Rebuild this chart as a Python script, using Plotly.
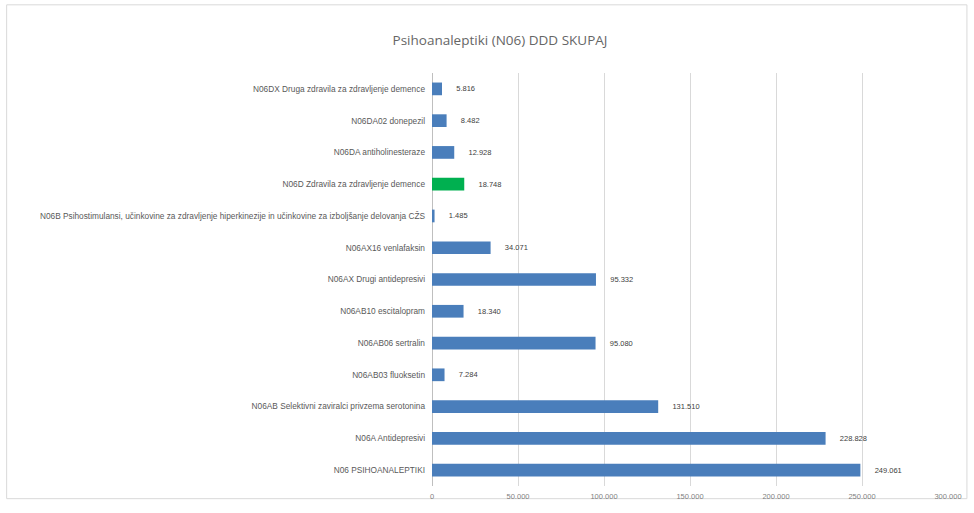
import plotly.graph_objects as go

categories = [
    "N06 PSIHOANALEPTIKI",
    "N06A Antidepresivi",
    "N06AB Selektivni zaviralci privzema serotonina",
    "N06AB03 fluoksetin",
    "N06AB06 sertralin",
    "N06AB10 escitalopram",
    "N06AX Drugi antidepresivi",
    "N06AX16 venlafaksin",
    "N06B Psihostimulansi, učinkovine za zdravljenje hiperkinezije in učinkovine za izboljšanje delovanja CŽS",
    "N06D Zdravila za zdravljenje demence",
    "N06DA antiholinesteraze",
    "N06DA02 donepezil",
    "N06DX Druga zdravila za zdravljenje demence",
]
values = [249061, 228828, 131510, 7284, 95080, 18340, 95332, 34071, 1485, 18748, 12928, 8482, 5816]
highlight = "N06D Zdravila za zdravljenje demence"
x_ticks = [0, 50000, 100000, 150000, 200000, 250000, 300000]

BLUE = "#4a7ebb"
GREEN = "#00b050"

def fmt(v):
    return f"{v:,}".replace(",", ".")

colors = [GREEN if c == highlight else BLUE for c in categories]
texts = ["\u2003\u2002" + fmt(v) for v in values]

fig = go.Figure()
fig.add_trace(go.Bar(
    y=categories, x=values, orientation="h",
    marker=dict(color=colors, line=dict(width=0)),
    width=0.4,
    text=texts, textposition="outside",
    textfont=dict(size=7.5, color="#404040", family="Liberation Sans"),
    cliponaxis=False,
))

fig.update_layout(
    width=974, height=513,
    margin=dict(l=432, r=24, t=73, b=16),
    paper_bgcolor="white", plot_bgcolor="white",
    title=dict(text="Psihoanaleptiki (N06) DDD SKUPAJ", x=500 / 974, xref="container",
               xanchor="center", y=1 - 40 / 513, yref="container", yanchor="middle",
               font=dict(size=13.5, color="#666666", family="Open Sans")),
    showlegend=False,
    font=dict(family="Liberation Sans", color="#595959"),
)
fig.update_xaxes(
    range=[0, 300000], tickvals=x_ticks, ticktext=[fmt(v) for v in x_ticks],
    showgrid=True, gridcolor="#d9d9d9", gridwidth=1,
    zeroline=True, zerolinecolor="#bfbfbf", zerolinewidth=1,
    tickfont=dict(size=7.5, color="#7f7f7f"), ticks="", ticklabelstandoff=4,
    showline=False,
)
fig.update_yaxes(
    categoryorder="array", categoryarray=categories,
    tickfont=dict(size=8.3, color="#595959"), ticks="", ticklabelstandoff=6,
    showgrid=False, showline=False, automargin=False,
)
# chart frame
fig.add_shape(type="rect", xref="paper", yref="paper",
              x0=(5 - 432) / 518, x1=(969 - 432) / 518,
              y0=-(510 - 497) / 424, y1=(497 - 3) / 424,
              line=dict(color="#d9d9d9", width=1), layer="below")

fig.write_html("out.html", config={"displayModeBar": False},
               post_script="document.body.style.margin='0';")
